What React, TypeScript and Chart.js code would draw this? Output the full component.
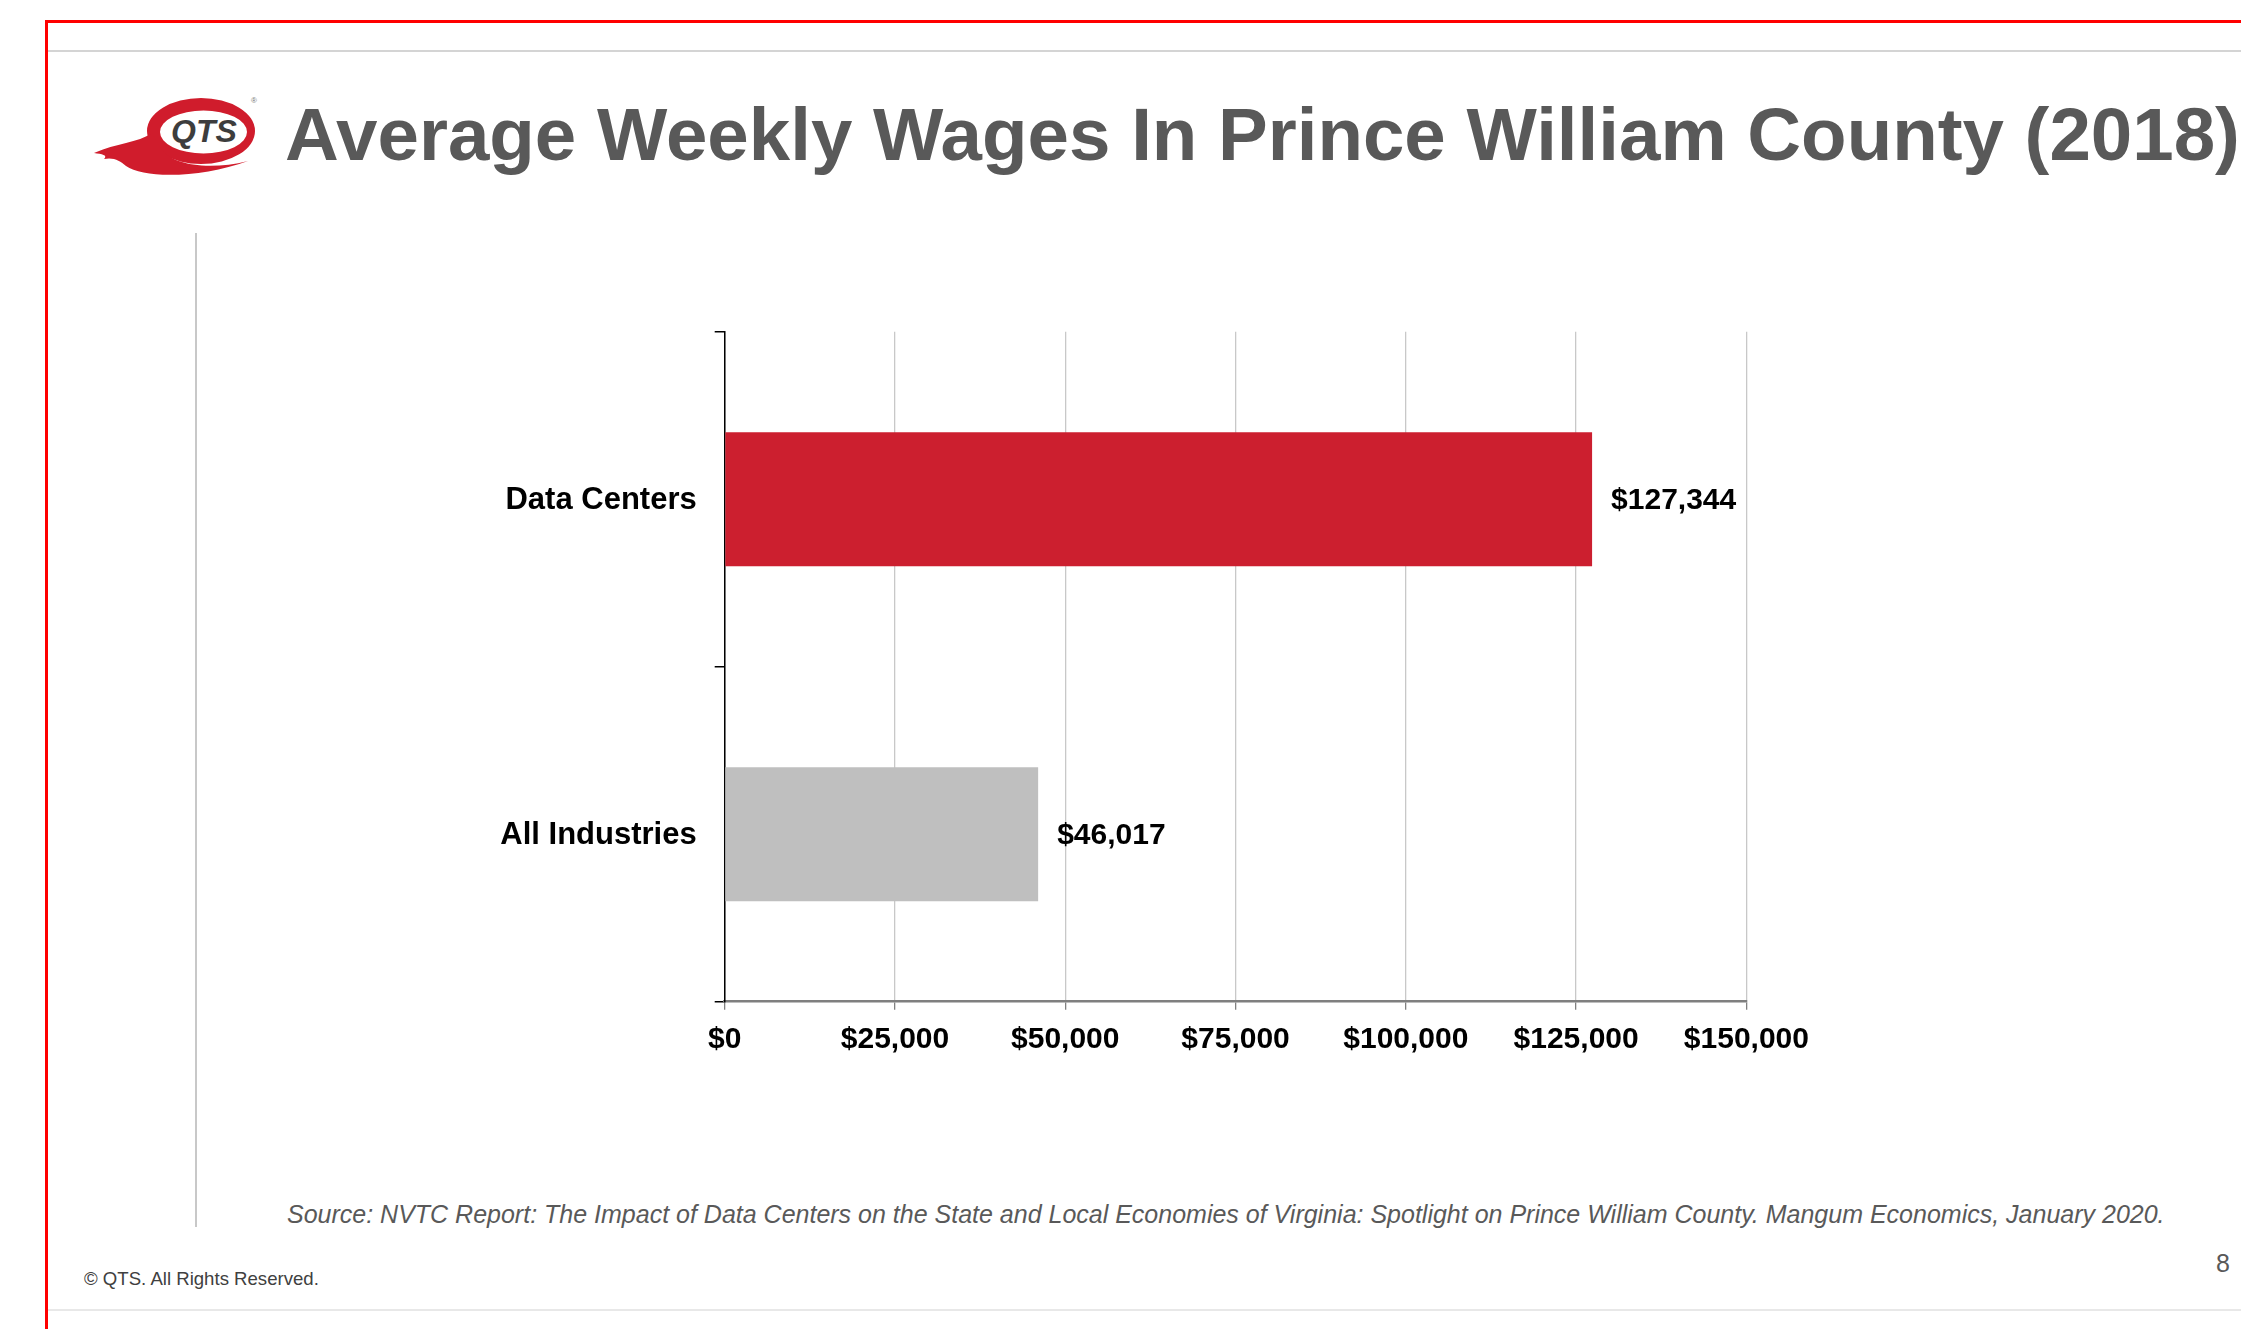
import React, { useEffect, useRef } from 'react';
import { Chart, registerables } from 'chart.js';

Chart.register(...registerables);

// ---- data ----
const categories = ['Data Centers', 'All Industries'];
const wages = [127344, 46017];
const xTickValues = [0, 25000, 50000, 75000, 100000, 125000, 150000];

const barColors = ['#cc1f2f', '#bfbfbf'];
const FONT = '"Liberation Sans", Arial, Helvetica, sans-serif';

const money = (v: number) => '$' + String(Math.round(v)).replace(/\B(?=(\d{3})+(?!\d))/g, ',');

const valueLabelPlugin = {
  id: 'valueLabels',
  afterDatasetsDraw(chart: any) {
    const ctx = chart.ctx;
    const meta = chart.getDatasetMeta(0);
    ctx.save();
    ctx.font = `bold 30px ${FONT}`;
    ctx.fillStyle = '#000000';
    ctx.textAlign = 'left';
    ctx.textBaseline = 'middle';
    meta.data.forEach((bar: any, i: number) => {
      ctx.fillText(money(wages[i]), bar.x + 19, bar.y + 1.5);
    });
    ctx.restore();
  },
};

function WageChart() {
  const ref = useRef<HTMLCanvasElement | null>(null);
  useEffect(() => {
    if (!ref.current) return;
    const chart = new Chart(ref.current, {
      type: 'bar',
      data: {
        labels: categories,
        datasets: [
          {
            data: wages,
            backgroundColor: barColors,
            borderWidth: 0,
            categoryPercentage: 1,
            barPercentage: 0.4,
          },
        ],
      },
      options: {
        indexAxis: 'y',
        animation: false,
        responsive: true,
        maintainAspectRatio: false,
        devicePixelRatio: 1,
        layout: { padding: { left: 0, top: 31.7, right: 133.6, bottom: 38.3 } },
        plugins: {
          legend: { display: false },
          tooltip: { enabled: false },
          title: { display: false },
        },
        scales: {
          x: {
            type: 'linear',
            min: xTickValues[0],
            max: xTickValues[xTickValues.length - 1],
            afterBuildTicks: (s: any) => {
              s.ticks = xTickValues.map((v) => ({ value: v }));
            },
            afterFit: (s: any) => {
              s.height = 60;
              s.paddingLeft = 0;
              s.paddingRight = 0;
            },
            grid: {
              color: '#c8c8c8',
              lineWidth: 1.3,
              drawTicks: true,
              tickLength: 8,
              tickColor: '#808080',
            },
            border: { display: true, color: '#7f7f7f', width: 2.5 },
            ticks: {
              color: '#000000',
              font: { family: FONT, size: 30, weight: 'bold' },
              padding: 12,
              maxRotation: 0,
              autoSkip: false,
              callback: (v: any) => money(Number(v)),
            },
          },
          y: {
            type: 'category',
            afterFit: (s: any) => {
              s.width = 244.7;
              s.paddingTop = 0;
              s.paddingBottom = 0;
            },
            grid: {
              display: true,
              drawOnChartArea: false,
              drawTicks: true,
              tickLength: 10,
              tickColor: '#000000',
              lineWidth: 1.5,
              offset: true,
            },
            border: { display: true, color: '#000000', width: 1.5 },
            ticks: {
              color: '#000000',
              font: { family: FONT, size: 31, weight: 'bold' },
              padding: 18,
              labelOffset: 1.5,
            },
          },
        },
      },
      plugins: [valueLabelPlugin],
    } as any);
    return () => chart.destroy();
  }, []);
  return <canvas ref={ref} />;
}

function Logo() {
  return (
    <svg
      style={{ position: 'absolute', left: 80, top: 85 }}
      width={200}
      height={110}
      viewBox="0 0 200 110"
    >
      <path
        fill="#d01c2c"
        fillRule="evenodd"
        d="M 67 46 A 54 33 0 1 0 175 46 A 54 33 0 1 0 67 46 Z M 80 47 A 43.5 21.5 0 1 1 167 47 A 43.5 21.5 0 1 1 80 47 Z"
      />
      <path
        fill="#d01c2c"
        d="M 72 48 C 58 58, 36 58, 14 68 C 22 69, 28 70, 24 74 C 34 72, 40 76, 46 81 C 64 94, 122 93, 168 76 C 128 86, 90 80, 80 62 Z"
      />
      <text
        x={124}
        y={57}
        textAnchor="middle"
        fontFamily={FONT}
        fontStyle="italic"
        fontWeight="bold"
        fontSize={32}
        fill="#3d3d3d"
      >
        QTS
      </text>
      <text x={171} y={18} fontFamily={FONT} fontSize={8} fill="#777777">
        ®
      </text>
    </svg>
  );
}

export default function App() {
  return (
    <div
      style={{
        position: 'absolute',
        left: 0,
        top: 0,
        width: 2241,
        height: 1329,
        background: '#ffffff',
        overflow: 'hidden',
        fontFamily: FONT,
      }}
    >
      <svg
        style={{ position: 'absolute', left: 0, top: 0 }}
        width={2241}
        height={1329}
        viewBox="0 0 2241 1329"
      >
        {/* frame */}
        <line x1={45} y1={21.5} x2={2241} y2={21.5} stroke="#ff0000" strokeWidth={3} />
        <line x1={46.5} y1={20} x2={46.5} y2={1329} stroke="#ff0000" strokeWidth={3} />
        <line x1={48} y1={51} x2={2241} y2={51} stroke="#d4d4d4" strokeWidth={2} />
        <line x1={196} y1={233} x2={196} y2={1227} stroke="#c8c8c8" strokeWidth={2} />
        <line x1={48} y1={1310} x2={2241} y2={1310} stroke="#e8e8e8" strokeWidth={2} />
        {/* title */}
        <text x={285} y={160} fontFamily={FONT} fontWeight="bold" fontSize={74.5} fill="#595959">
          Average Weekly Wages In Prince William County (2018)
        </text>
        {/* source */}
        <text x={287} y={1222.7} fontFamily={FONT} fontStyle="italic" fontSize={25} fill="#595959">
          Source: NVTC Report: The Impact of Data Centers on the State and Local Economies of Virginia: Spotlight on Prince William County. Mangum Economics, January 2020.
        </text>
        <text x={84} y={1285} fontFamily={FONT} fontSize={18.6} fill="#404040">
          © QTS. All Rights Reserved.
        </text>
        <text x={2216} y={1272} fontFamily={FONT} fontSize={25} fill="#595959">
          8
        </text>
      </svg>
      <Logo />
      <div style={{ position: 'absolute', left: 480, top: 300, width: 1400, height: 800 }}>
        <WageChart />
      </div>
    </div>
  );
}
